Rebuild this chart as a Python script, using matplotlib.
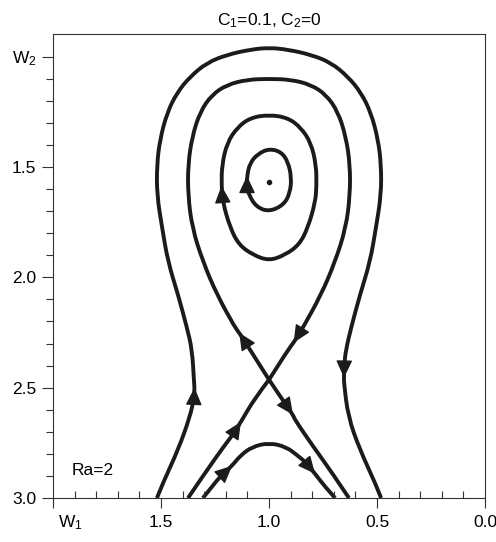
import matplotlib
matplotlib.use("Agg")
import matplotlib.pyplot as plt
from matplotlib.path import Path
from matplotlib.patches import PathPatch
import numpy as np

plt.rcParams['font.family'] = ['Liberation Sans', 'DejaVu Sans']
plt.rcParams['mathtext.fontset'] = 'custom'
plt.rcParams['mathtext.rm'] = 'Liberation Sans'
plt.rcParams['mathtext.it'] = 'Liberation Sans:italic'

# phase curves, listed in the flow direction (W1, W2)
outer_w1 = [1.519, 1.491, 1.421, 1.366, 1.347, 1.345, 1.347, 1.356, 1.380, 1.421,
            1.468, 1.495, 1.519, 1.519, 1.505, 1.472, 1.426, 1.366, 1.287, 1.194,
            1.088, 1.000, 0.912, 0.806, 0.713, 0.634, 0.574, 0.528, 0.495, 0.481,
            0.481, 0.505, 0.532, 0.579, 0.620, 0.644, 0.652, 0.653, 0.653, 0.634,
            0.579, 0.509, 0.481]
outer_w2 = [3.000, 2.931, 2.782, 2.632, 2.546, 2.500, 2.478, 2.328, 2.228, 2.079,
            1.929, 1.775, 1.626, 1.490, 1.376, 1.254, 1.163, 1.091, 1.027, 0.991,
            0.968, 0.959, 0.968, 0.991, 1.027, 1.091, 1.163, 1.254, 1.376, 1.490,
            1.626, 1.775, 1.929, 2.079, 2.228, 2.328, 2.396, 2.455, 2.478, 2.632,
            2.782, 2.931, 3.000]

# homoclinic loop: leaves the saddle up-left, comes back from the upper right
loop_w1 = [1.000, 1.088, 1.138, 1.157, 1.241, 1.306, 1.356, 1.375, 1.375, 1.356,
           1.319, 1.264, 1.194, 1.102, 1.000, 0.898, 0.806, 0.736, 0.681, 0.644,
           0.625, 0.625, 0.644, 0.694, 0.759, 0.843, 0.886, 0.912, 1.000]
loop_w2 = [2.464, 2.328, 2.251, 2.228, 2.079, 1.929, 1.775, 1.626, 1.490, 1.363,
           1.249, 1.172, 1.127, 1.104, 1.100, 1.104, 1.127, 1.172, 1.249, 1.363,
           1.490, 1.626, 1.775, 1.929, 2.079, 2.228, 2.296, 2.328, 2.464]

lowleft_w1 = [1.375, 1.296, 1.204, 1.171, 1.130, 1.065, 1.000]
lowleft_w2 = [3.000, 2.886, 2.759, 2.718, 2.655, 2.546, 2.464]

lowright_w1 = [1.000, 0.944, 0.889, 0.880, 0.801, 0.708, 0.630]
lowright_w2 = [2.464, 2.546, 2.623, 2.646, 2.759, 2.886, 3.000]

cap_w1 = [1.306, 1.264, 1.231, 1.171, 1.134, 1.079, 1.000, 0.921, 0.866, 0.833,
          0.787, 0.741, 0.694]
cap_w2 = [3.000, 2.949, 2.908, 2.854, 2.809, 2.768, 2.750, 2.768, 2.809, 2.836,
          2.890, 2.949, 3.000]

mid_w1 = [1.000, 1.075, 1.140, 1.180, 1.214, 1.220, 1.218, 1.194, 1.148, 1.088,
          1.000, 0.912, 0.852, 0.806, 0.782, 0.780, 0.786, 0.820, 0.860, 0.925,
          1.000]
mid_w2 = [1.925, 1.898, 1.852, 1.775, 1.660, 1.585, 1.490, 1.390, 1.322, 1.277,
          1.263, 1.277, 1.322, 1.390, 1.490, 1.585, 1.660, 1.775, 1.852, 1.898,
          1.925]

inner_w1 = [1.000, 1.060, 1.093, 1.102, 1.102, 1.088, 1.051, 1.000, 0.944, 0.912,
            0.896, 0.903, 0.931, 1.000]
inner_w2 = [1.703, 1.680, 1.626, 1.592, 1.540, 1.481, 1.440, 1.417, 1.431, 1.476,
            1.549, 1.617, 1.671, 1.703]

center_w1, center_w2 = 1.000, 1.567

# name: (w1, w2, closed orbit?)
curves = {
    'outer': (outer_w1, outer_w2, False),
    'loop': (loop_w1, loop_w2, False),
    'lowleft': (lowleft_w1, lowleft_w2, False),
    'lowright': (lowright_w1, lowright_w2, False),
    'cap': (cap_w1, cap_w2, False),
    'mid': (mid_w1, mid_w2, True),
    'inner': (inner_w1, inner_w2, True),
}

# arrow heads: (curve, index of the tip point)
arrows = [('outer', 5), ('outer', 37), ('loop', 2), ('loop', 26),
          ('lowleft', 4), ('lowright', 2), ('cap', 3), ('cap', 10),
          ('mid', 5), ('inner', 4)]

xticks = [2.0, 1.5, 1.0, 0.5, 0.0]
xlabels = ['', '1.5', '1.0', '0.5', '0.0']
yticks = [1.0, 1.5, 2.0, 2.5, 3.0]
ylabels = ['W$_2$', '1.5', '2.0', '2.5', '3.0']

ink = '#1c1a1b'
fs = 12.5


def smooth_path(x, y, closed):
    # quadratic B-spline on the read points, drawn by matplotlib's Path
    p = np.column_stack([x, y])
    if closed:
        p = p[:-1]
        n = len(p)
        verts = [(p[-1] + p[0]) / 2]
        codes = [Path.MOVETO]
        for i in range(n):
            verts += [p[i], (p[i] + p[(i + 1) % n]) / 2]
            codes += [Path.CURVE3, Path.CURVE3]
        return Path(verts, codes)
    verts = [p[0]]
    codes = [Path.MOVETO]
    for i in range(1, len(p) - 1):
        end = (p[i] + p[i + 1]) / 2 if i < len(p) - 2 else p[i + 1]
        verts += [p[i], end]
        codes += [Path.CURVE3, Path.CURVE3]
    return Path(verts, codes)


fig = plt.figure(figsize=(4.96, 5.42), dpi=100)
ax = fig.add_axes([0.1069, 0.0812, 0.8710, 0.8561])

for name, (x, y, closed) in curves.items():
    ax.add_patch(PathPatch(smooth_path(x, y, closed), fill=False, edgecolor=ink,
                           lw=2.8, capstyle='butt', joinstyle='miter'))

for name, i in arrows:
    x, y, _ = curves[name]
    ax.annotate('', xy=(x[i], y[i]), xytext=(x[i - 1], y[i - 1]),
                arrowprops=dict(arrowstyle='-|>,head_length=0.6,head_width=0.28',
                                color=ink, lw=1, shrinkA=0, shrinkB=0,
                                mutation_scale=18))

ax.plot([center_w1], [center_w2], 'o', color=ink, ms=3)

ax.set_xlim(2.0, 0.0)
ax.set_ylim(3.0, 0.897)

ax.set_xticks(xticks)
ax.set_xticklabels(xlabels)
ax.set_yticks(yticks)
ax.set_yticklabels(ylabels)
ax.set_xticks(np.arange(0.1, 2.0, 0.1), minor=True)
ax.set_yticks([v for v in np.arange(1.1, 3.0, 0.1) if abs(v * 2 - round(v * 2)) > 1e-6],
              minor=True)

ax.tick_params(axis='x', which='major', direction='out', length=7, width=0.8,
               pad=5, labelsize=fs, color='#333333')
ax.tick_params(axis='x', which='minor', direction='in', length=5, width=0.8,
               color='#333333')
ax.tick_params(axis='y', which='major', direction='out', length=8, width=0.8,
               pad=4, labelsize=fs, color='#333333')
ax.tick_params(axis='y', which='minor', direction='out', length=5, width=0.8,
               color='#333333')
ax.tick_params(top=False, right=False, which='both')

for sp in ax.spines.values():
    sp.set_linewidth(0.8)
    sp.set_color('#333333')

ax.text(0.039, -0.034, 'W$_1$', transform=ax.transAxes, ha='center', va='top',
        fontsize=fs)
ax.text(1.912, 2.895, 'Ra=2', ha='left', va='baseline', fontsize=fs)
ax.set_title('C$_1$=0.1, C$_2$=0', fontsize=fs, pad=6)

fig.savefig('out.png', dpi=100)
